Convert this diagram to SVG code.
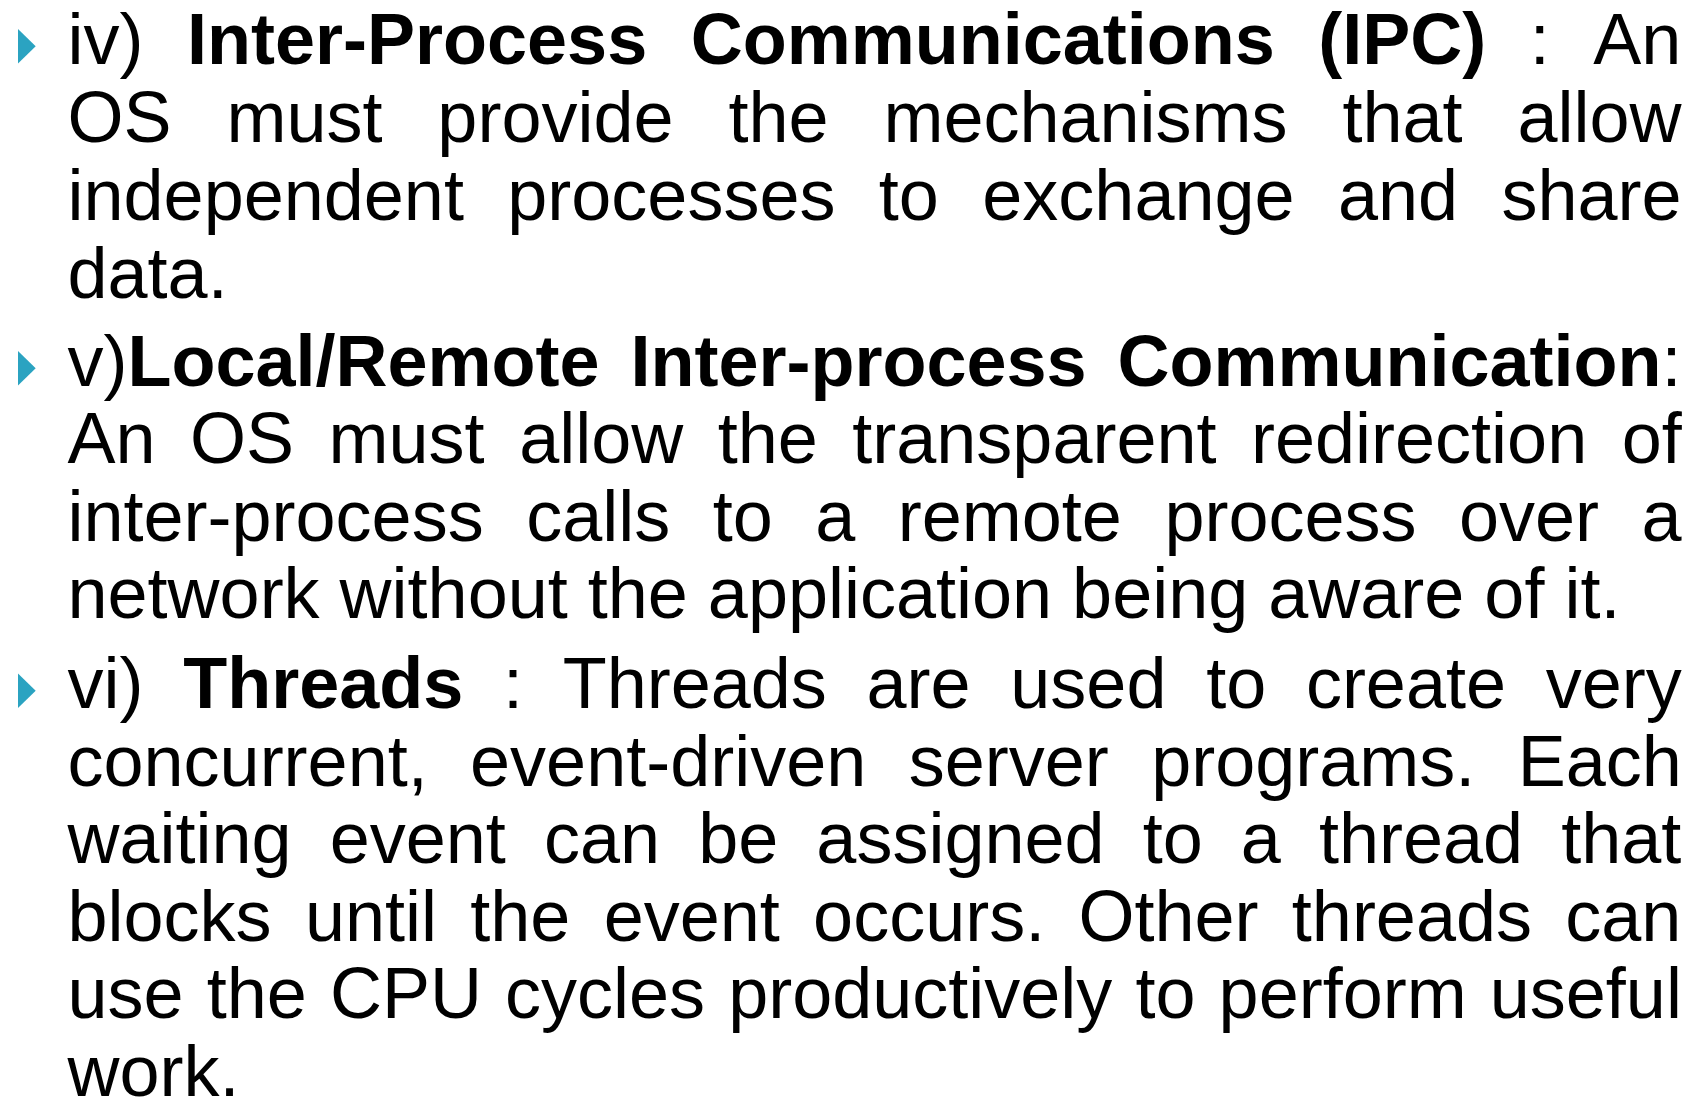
<svg xmlns="http://www.w3.org/2000/svg" width="1702" height="1098" viewBox="0 0 1702 1098">
  <style>
    .body { font-family: "Liberation Sans", Arial, sans-serif; font-size: 72px; fill: #000; font-kerning: none; }
    .b { font-weight: bold; }
    .bullet { fill: #2BA3C1; }
  </style>
  <defs>
    <!-- right-pointing bullet, baseline-anchored at (0,0) -->
    <polygon id="tri" class="bullet" points="18,-34.5 35.7,-17.2 18,0"/>
  </defs>
  <rect width="1702" height="1098" fill="#fff"/>

  <g id="item-ipc">
    <use href="#tri" y="63.5"/>
    <text class="body" x="67.5" y="63.5" style="word-spacing:23.5px">iv) <tspan class="b">Inter-Process Communications (IPC)</tspan> : An</text>
    <text class="body" x="67.5" y="141.5" style="word-spacing:34.9px">OS must provide the mechanisms that allow</text>
    <text class="body" x="67.5" y="219.5" style="word-spacing:23.4px">independent processes to exchange and share</text>
    <text class="body" x="67.5" y="297.5">data.</text>
  </g>

  <g id="item-remote-ipc">
    <use href="#tri" y="385.5"/>
    <text class="body" x="67.5" y="385.5" style="word-spacing:10.9px">v)<tspan class="b">Local/Remote Inter-process Communication</tspan>:</text>
    <text class="body" x="67.5" y="463" style="word-spacing:14.5px">An OS must allow the transparent redirection of</text>
    <text class="body" x="67.5" y="540.5" style="word-spacing:22.5px">inter-process calls to a remote process over a</text>
    <text class="body" x="67.5" y="618">network without the application being aware of it.</text>
  </g>

  <g id="item-threads">
    <use href="#tri" y="708"/>
    <text class="body" x="67.5" y="708" style="word-spacing:19.7px">vi) <tspan class="b">Threads</tspan> : Threads are used to create very</text>
    <text class="body" x="67.5" y="785.5" style="word-spacing:22.4px">concurrent, event-driven server programs. Each</text>
    <text class="body" x="67.5" y="863" style="word-spacing:18.1px">waiting event can be assigned to a thread that</text>
    <text class="body" x="67.5" y="940.5" style="word-spacing:13.3px">blocks until the event occurs. Other threads can</text>
    <text class="body" x="67.5" y="1018" style="word-spacing:3.1px">use the CPU cycles productively to perform useful</text>
    <text class="body" x="67.5" y="1095.5">work.</text>
  </g>
</svg>
